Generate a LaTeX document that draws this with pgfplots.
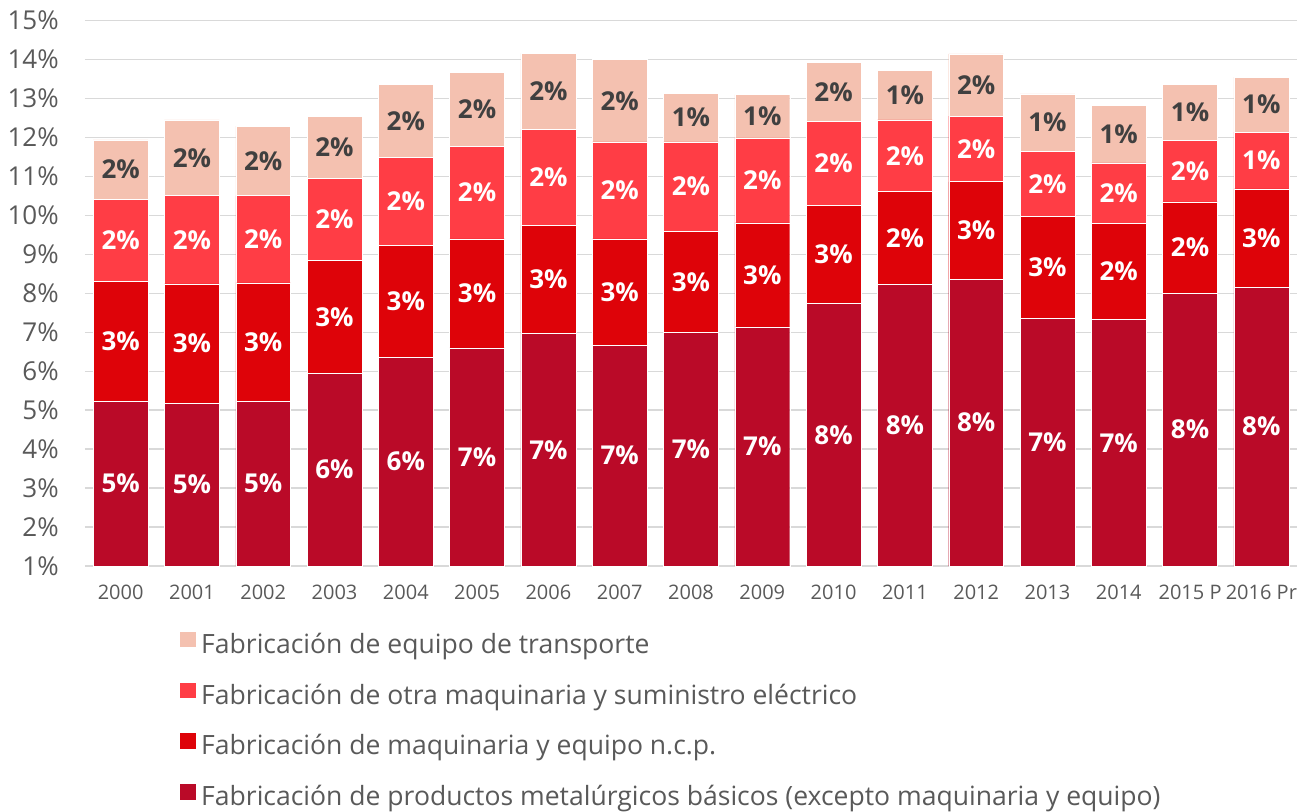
\documentclass[border=0pt]{standalone}
\usepackage{pgfplots}
\usepackage{pgfplotstable}
\pgfplotsset{compat=1.18}
\usepackage{fontspec}
\setmainfont{Open Sans}
\definecolor{cDark}{HTML}{BA0A28}
\definecolor{cRed}{HTML}{DE0309}
\definecolor{cLight}{HTML}{FF3D45}
\definecolor{cPeach}{HTML}{F4C1B0}
\definecolor{cTick}{HTML}{595959}
\definecolor{cGrid}{HTML}{D9D9D9}
\definecolor{cLab}{HTML}{404040}

\pgfplotstableread{
x dark red lr pe
0  5.23 3.07 2.12 1.52
1  5.18 3.06 2.27 1.94
2  5.23 3.04 2.24 1.78
3  5.95 2.89 2.11 1.60
4  6.36 2.88 2.25 1.88
5  6.60 2.80 2.38 1.90
6  6.97 2.77 2.47 1.95
7  6.67 2.73 2.49 2.11
8  6.99 2.61 2.29 1.25
9  7.14 2.67 2.18 1.11
10 7.74 2.51 2.17 1.51
11 8.23 2.38 1.84 1.28
12 8.36 2.51 1.68 1.60
13 7.36 2.61 1.68 1.47
14 7.33 2.47 1.55 1.47
15 8.00 2.35 1.57 1.45
16 8.16 2.52 1.46 1.41
}\data

\pgfplotsset{
  common/.style={
    scale only axis,
    width=909pt, height=409pt,
    xmin=-0.5, xmax=16.5,
    ymin=1, ymax=15,
    at={(0,0)}, anchor=south west,
  },
  barlab/.style={
    draw=none, mark=none,
    nodes near coords={\pgfmathprintnumber[fixed,precision=0,assume math mode=true]{\pgfplotspointmeta}\%},
    nodes near coords align={center},
    every node near coord/.append style={anchor=center, inner sep=0pt,
      font=\fontsize{19.5pt}{22pt}\selectfont\bfseries, text=#1},
  },
}

\begin{document}
\begin{tikzpicture}
\useasboundingbox (-63.75pt,-183.75pt) rectangle ++(982.5pt,608.25pt);
\begin{axis}[
  common,
  ybar stacked,
  bar width=0.77,
  axis line style={draw=none},
  ymajorgrids,
  grid style={cGrid, line width=1.1pt},
  major tick length=0pt,
  ytick={1,...,15},
  yticklabel={\pgfmathprintnumber{\tick}\%},
  xtick={0,...,16},
  xticklabels={2000,2001,2002,2003,2004,2005,2006,2007,2008,2009,2010,2011,2012,2013,2014,2015 P,2016 Pr},
  /pgf/number format/assume math mode=true,
  yticklabel style={font=\fontsize{19.5pt}{23pt}\selectfont, text=cTick, inner sep=0pt, anchor=east, xshift=-19.5pt},
  xticklabel style={font=\fontsize{15pt}{18pt}\selectfont, text=cTick, inner sep=0pt, anchor=north, yshift=-14.25pt},
  reverse legend,
  legend cell align=left,
  legend image code/.code={\fill[#1, draw=none] (0pt,-0.3pt) rectangle (11.6pt,11.3pt);},
  legend style={at={(0.0785,-0.1205)}, anchor=north west, draw=none, fill=none,
    inner sep=0pt, row sep=17.5pt,
    font=\fontsize{19.9pt}{23pt}\selectfont, text=cTick,
    nodes={inner xsep=4pt, inner ysep=0pt, text height=14pt, text depth=4.5pt}},
]
\addplot[fill=cDark, draw=white, line width=0.3pt] table[x=x, y=dark] {\data};
\addlegendentry{Fabricación de productos metalúrgicos básicos (excepto maquinaria y equipo)}
\addplot[fill=cRed, draw=white, line width=0.3pt] table[x=x, y=red] {\data};
\addlegendentry{Fabricación de maquinaria y equipo n.c.p.}
\addplot[fill=cLight, draw=white, line width=0.3pt] table[x=x, y=lr] {\data};
\addlegendentry{Fabricación de otra maquinaria y suministro eléctrico}
\addplot[fill=cPeach, draw=white, line width=0.3pt] table[x=x, y=pe] {\data};
\addlegendentry{Fabricación de equipo de transporte}
\end{axis}
\begin{axis}[common, hide axis]
\addplot[barlab=white, point meta=\thisrow{dark}] table[x=x, y expr={(1+\thisrow{dark})/2}] {\data};
\addplot[barlab=white, point meta=\thisrow{red}] table[x=x, y expr={\thisrow{dark}+\thisrow{red}/2}] {\data};
\addplot[barlab=white, point meta=\thisrow{lr}] table[x=x, y expr={\thisrow{dark}+\thisrow{red}+\thisrow{lr}/2}] {\data};
\addplot[barlab=cLab, point meta=\thisrow{pe}] table[x=x, y expr={\thisrow{dark}+\thisrow{red}+\thisrow{lr}+\thisrow{pe}/2}] {\data};
\end{axis}
\end{tikzpicture}
\end{document}
